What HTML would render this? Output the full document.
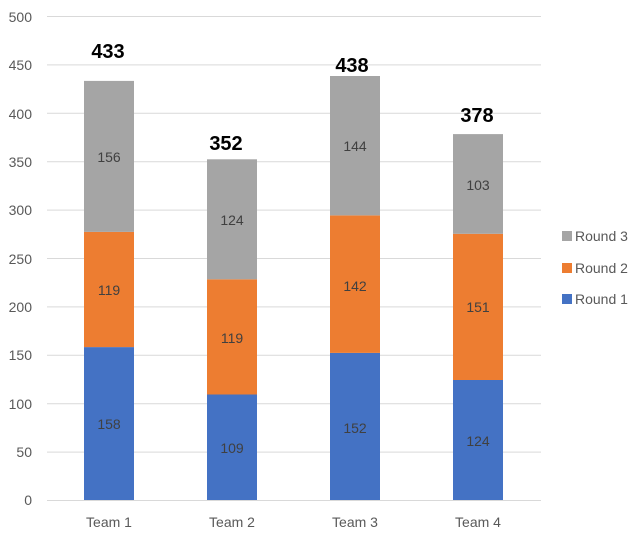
<!DOCTYPE html>
<html><head><meta charset="utf-8"><style>
html,body{margin:0;padding:0;background:#fff;}
svg{display:block;font-family:"Liberation Sans",sans-serif;}
</style></head><body>
<svg width="640" height="534" viewBox="0 0 640 534">
<g stroke="#d9d9d9" stroke-width="1">
<line x1="47" x2="541" y1="16.5" y2="16.5"/>
<line x1="47" x2="541" y1="64.9" y2="64.9"/>
<line x1="47" x2="541" y1="113.3" y2="113.3"/>
<line x1="47" x2="541" y1="161.7" y2="161.7"/>
<line x1="47" x2="541" y1="210.1" y2="210.1"/>
<line x1="47" x2="541" y1="258.5" y2="258.5"/>
<line x1="47" x2="541" y1="306.9" y2="306.9"/>
<line x1="47" x2="541" y1="355.3" y2="355.3"/>
<line x1="47" x2="541" y1="403.7" y2="403.7"/>
<line x1="47" x2="541" y1="452.1" y2="452.1"/>
<line x1="47" x2="541" y1="500.5" y2="500.5"/>
</g>
<g font-size="14" fill="#595959" text-anchor="end">
<text x="32" y="22">500</text><text x="32" y="70">450</text><text x="32" y="119">400</text>
<text x="32" y="167">350</text><text x="32" y="215">300</text><text x="32" y="264">250</text>
<text x="32" y="312">200</text><text x="32" y="360">150</text><text x="32" y="409">100</text>
<text x="32" y="457">50</text><text x="32" y="505">0</text>
</g>
<!-- bars: scale 0.968 -->
<g>
<rect x="84" y="347.1" width="50" height="152.9" fill="#4472c4"/>
<rect x="84" y="231.9" width="50" height="115.2" fill="#ed7d31"/>
<rect x="84" y="80.9" width="50" height="151" fill="#a5a5a5"/>
<rect x="207" y="394.5" width="50" height="105.5" fill="#4472c4"/>
<rect x="207" y="279.3" width="50" height="115.2" fill="#ed7d31"/>
<rect x="207" y="159.3" width="50" height="120" fill="#a5a5a5"/>
<rect x="330" y="352.9" width="50" height="147.1" fill="#4472c4"/>
<rect x="330" y="215.5" width="50" height="137.4" fill="#ed7d31"/>
<rect x="330" y="76.0" width="50" height="139.4" fill="#a5a5a5"/>
<rect x="453" y="380" width="50" height="120" fill="#4472c4"/>
<rect x="453" y="233.8" width="50" height="146.2" fill="#ed7d31"/>
<rect x="453" y="134.1" width="50" height="99.7" fill="#a5a5a5"/>
</g>
<g font-size="14" fill="#404040" text-anchor="middle">
<text x="109" y="429">158</text><text x="109" y="295">119</text><text x="109" y="162">156</text>
<text x="232" y="453">109</text><text x="232" y="343">119</text><text x="232" y="225">124</text>
<text x="355" y="433">152</text><text x="355" y="291">142</text><text x="355" y="151">144</text>
<text x="478" y="446">124</text><text x="478" y="312">151</text><text x="478" y="190">103</text>
</g>
<g font-size="20" font-weight="bold" fill="#000" text-anchor="middle">
<text x="108" y="58">433</text><text x="226" y="150">352</text>
<text x="352" y="72">438</text><text x="477" y="122">378</text>
</g>
<g font-size="14" fill="#595959" text-anchor="middle">
<text x="109" y="527">Team 1</text><text x="232" y="527">Team 2</text>
<text x="355" y="527">Team 3</text><text x="478" y="527">Team 4</text>
</g>
<g font-size="14" fill="#595959">
<rect x="562" y="231" width="10" height="10" fill="#a5a5a5"/><text x="575" y="241">Round 3</text>
<rect x="562" y="263" width="10" height="10" fill="#ed7d31"/><text x="575" y="273">Round 2</text>
<rect x="562" y="294" width="10" height="10" fill="#4472c4"/><text x="575" y="304">Round 1</text>
</g>
</svg>
</body></html>
